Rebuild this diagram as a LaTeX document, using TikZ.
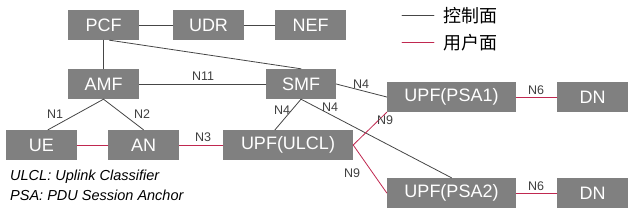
\documentclass[tikz,border=0pt]{standalone}
\usepackage{fontspec}
\setmainfont{Liberation Sans}
\newfontfamily\cjk{Noto Sans CJK SC}
\usepackage{xcolor}
\usetikzlibrary{calc}
\definecolor{boxgray}{RGB}{128,128,128}
\definecolor{upred}{RGB}{192,40,80}
\definecolor{cpline}{RGB}{70,70,70}
\tikzset{
  nf/.style={rectangle, fill=boxgray, text=white, minimum width=71pt, minimum height=30pt, inner sep=0pt, font=\fontsize{18}{18}\selectfont},
  wide/.style={nf, minimum width=130pt},
  ifl/.style={text=black!75, inner sep=0pt, font=\fontsize{12.5}{12.5}\selectfont},
  cp/.style={draw=cpline, line width=0.8pt},
  up/.style={draw=upred, line width=0.8pt},
  every picture/.style={line cap=round, line join=round}
}

\begin{document}
\begin{tikzpicture}[x=1pt,y=-1pt]
  \useasboundingbox (0,0) rectangle (628,216);
  % control plane functions
  \node[nf] (pcf) at (103.5,25) {PCF};
  \node[nf] (udr) at (208.5,25) {UDR};
  \node[nf] (nef) at (310.5,25) {NEF};
  \node[nf] (amf) at (103.5,84) {AMF};
  \node[nf,minimum width=70pt] (smf) at (301,84) {SMF};
  % user plane
  \node[nf] (ue) at (41.5,145) {UE};
  \node[nf] (an) at (143.5,145) {AN};
  \node[wide] (ulcl) at (288,145) {UPF(ULCL)};
  \node[wide,minimum width=129pt] (psa1) at (451.5,97) {UPF(PSA1)};
  \node[wide,minimum width=129pt] (psa2) at (451.5,193) {UPF(PSA2)};
  \node[nf] (dn1) at (592.5,97) {DN};
  \node[nf] (dn2) at (592.5,193) {DN};

  \draw[cp] (pcf)--(udr);
  \draw[cp] (udr)--(nef);
  \draw[cp] (pcf.south)--(amf.north);
  \draw[cp] ([xshift=6pt]pcf.south)--(smf.north);
  \draw[cp] (amf)--(smf);
  \draw[cp] (amf.south)--([xshift=6.5pt]ue.north);
  \draw[cp] (amf.south)--(an.north);
  \draw[cp] (smf.south)--([xshift=-13pt]ulcl.north);
  \draw[cp] (smf.south)--(psa2.north);
  \draw[cp] (smf.east)--(psa1.west);

  \draw[up] (ue)--(an);
  \draw[up] (an)--(ulcl);
  \draw[up] (ulcl.east)--(psa1.south west);
  \draw[up] (ulcl.east)--(psa2.west);
  \draw[up] (psa1)--(dn1);
  \draw[up] (psa2)--(dn2);

  % interface labels
  \node[ifl] at (203,76) {N11};
  \node[ifl] at (55,114) {N1};
  \node[ifl] at (142,114) {N2};
  \node[ifl] at (203,137) {N3};
  \node[ifl] at (282,110) {N4};
  \node[ifl] at (330,107) {N4};
  \node[ifl] at (361,84) {N4};
  \node[ifl] at (385,120) {N9};
  \node[ifl] at (352,173) {N9};
  \node[ifl] at (536,90) {N6};
  \node[ifl] at (536,186) {N6};

  % legend
  \coordinate (k1) at (402,15);
  \coordinate (k2) at (434,15);
  \coordinate (k3) at (402,42);
  \coordinate (k4) at (434,42);
  \draw[cp] (k1)--(k2);
  \draw[up] (k3)--(k4);
  \node[anchor=west,inner sep=0pt,font=\cjk\fontsize{18}{18}\selectfont] (cpt) at (443,16) {控制面};
  \node[anchor=west,inner sep=0pt,font=\cjk\fontsize{18}{18}\selectfont] (upt) at (443,43) {用户面};

  \node[anchor=west,inner sep=0pt,font=\itshape\fontsize{14.5}{14.5}\selectfont] (n1) at (10,177) {ULCL: Uplink Classifier};
  \node[anchor=west,inner sep=0pt,font=\itshape\fontsize{14.5}{14.5}\selectfont] (n2) at (10,195) {PSA: PDU Session Anchor};
\end{tikzpicture}
\end{document}
